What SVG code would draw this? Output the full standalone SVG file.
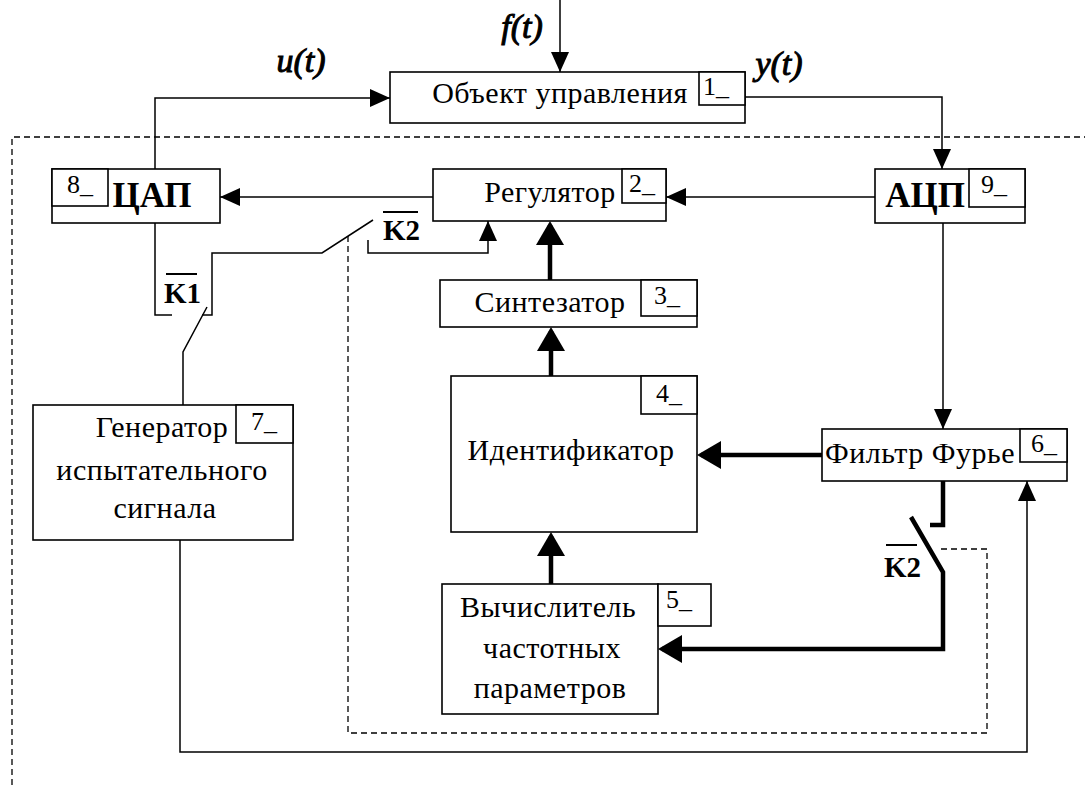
<svg xmlns="http://www.w3.org/2000/svg" width="1085" height="785" viewBox="0 0 1085 785">
<style>
text{font-family:"Liberation Serif",serif;fill:#000}
.t{font-size:30px;text-anchor:middle;letter-spacing:0.5px}
.tb{font-size:35px;font-weight:bold;text-anchor:middle}
.n{font-size:26px}
.k{font-size:29px;font-weight:bold}
.s{font-size:34px;font-style:italic;text-anchor:middle;stroke:#000;stroke-width:1}
.box{fill:#fff;stroke:#000;stroke-width:1.6}
.thin{fill:none;stroke:#000;stroke-width:1.5}
.thick{fill:none;stroke:#000;stroke-width:4.5}
.dash{fill:none;stroke:#000;stroke-width:1.3;stroke-dasharray:6,4}
.ov{stroke:#000;stroke-width:2}
</style>
<defs>
<marker id="a" markerUnits="userSpaceOnUse" markerWidth="20" markerHeight="18" refX="20" refY="9" orient="auto"><path d="M0,0L20,9L0,18z" fill="#000"/></marker>
<marker id="A" markerUnits="userSpaceOnUse" markerWidth="24" markerHeight="28" refX="20" refY="14" orient="auto"><path d="M0,0L24,14L0,28z" fill="#000"/></marker>
</defs>
<g id="connectors">
<path class="dash" d="M12,785V137H1085"/>
<path class="dash" d="M348,236V733H987V549H937"/>
<path class="thin" d="M560,0V72" marker-end="url(#a)"/>
<path class="thin" d="M155,169V98H390" marker-end="url(#a)"/>
<path class="thin" d="M745,97H942V169" marker-end="url(#a)"/>
<path class="thin" d="M433,197H220" marker-end="url(#a)"/>
<path class="thin" d="M875,197H666" marker-end="url(#a)"/>
<path class="thin" d="M943,223V429" marker-end="url(#a)"/>
<path class="thin" d="M368,240V253H488V221" marker-end="url(#a)"/>
<path class="thin" d="M373,220L322,253H212V315H202"/>
<path class="thin" d="M155,223V315H172"/>
<path class="thin" d="M207,307L183,352V405"/>
<path class="thin" d="M180,540V752H1027V481" marker-end="url(#a)"/>
<path class="thick" d="M550,280V225" marker-end="url(#A)"/>
<path class="thick" d="M551,376V331" marker-end="url(#A)"/>
<path class="thick" d="M551,584V536" marker-end="url(#A)"/>
<path class="thick" d="M822,455H701" marker-end="url(#A)"/>
<path class="thick" d="M943,481V525H930"/>
<path class="thick" d="M911,517L943,572V649H662" marker-end="url(#A)" style="stroke-linejoin:miter"/>
</g>
<g id="labels">
<text class="s" x="522" y="38">f(t)</text>
<text class="s" x="301" y="72">u(t)</text>
<text class="s" x="779" y="75">y(t)</text>
<line class="ov" x1="166" y1="274" x2="197" y2="274"/>
<text class="k" x="164" y="303">K1</text>
<line class="ov" x1="383" y1="212" x2="418" y2="212"/>
<text class="k" x="383" y="240">K2</text>
<line class="ov" x1="886" y1="545" x2="917" y2="545"/>
<text class="k" x="884" y="577">K2</text>
</g>
<g id="n1">
<rect class="box" x="390" y="72" width="355" height="51"/>
<rect class="box" x="699" y="72" width="46" height="33"/>
<text class="t" x="560" y="103">Объект управления</text>
<text class="n" x="703" y="95">1_</text>
</g>
<g id="n2">
<rect class="box" x="433" y="169" width="233" height="52"/>
<rect class="box" x="622" y="169" width="44" height="34"/>
<text class="t" x="550" y="202">Регулятор</text>
<text class="n" x="629" y="192">2_</text>
</g>
<g id="n3">
<rect class="box" x="440" y="280" width="257" height="47"/>
<rect class="box" x="641" y="280" width="56" height="36"/>
<text class="t" x="550" y="312">Синтезатор</text>
<text class="n" x="654" y="304">3_</text>
</g>
<g id="n4">
<rect class="box" x="451" y="376" width="246" height="156"/>
<rect class="box" x="641" y="376" width="56" height="38"/>
<text class="t" x="571" y="460">Идентификатор</text>
<text class="n" x="656" y="402">4_</text>
</g>
<g id="n5">
<rect class="box" x="442" y="584" width="216" height="130"/>
<rect class="box" x="658" y="584" width="53" height="42"/>
<text class="t" x="548" y="617">Вычислитель</text>
<text class="t" x="552" y="658">частотных</text>
<text class="t" x="550" y="698">параметров</text>
<text class="n" x="666" y="608">5_</text>
</g>
<g id="n6">
<rect class="box" x="822" y="429" width="245" height="52"/>
<rect class="box" x="1020" y="429" width="47" height="33"/>
<text class="t" x="920" y="463">Фильтр Фурье</text>
<text class="n" x="1031" y="452">6_</text>
</g>
<g id="n7">
<rect class="box" x="33" y="405" width="260" height="135"/>
<rect class="box" x="236" y="405" width="57" height="38"/>
<text class="t" x="162" y="437">Генератор</text>
<text class="t" x="162" y="480">испытательного</text>
<text class="t" x="165" y="518">сигнала</text>
<text class="n" x="251" y="430">7_</text>
</g>
<g id="n8">
<rect class="box" x="52" y="169" width="168" height="54"/>
<rect class="box" x="52" y="169" width="56" height="37"/>
<text class="tb" x="152" y="207">ЦАП</text>
<text class="n" x="67" y="193">8_</text>
</g>
<g id="n9">
<rect class="box" x="875" y="169" width="150" height="54"/>
<rect class="box" x="969" y="169" width="56" height="38"/>
<text class="tb" x="925" y="207">АЦП</text>
<text class="n" x="981" y="193">9_</text>
</g>
</svg>
